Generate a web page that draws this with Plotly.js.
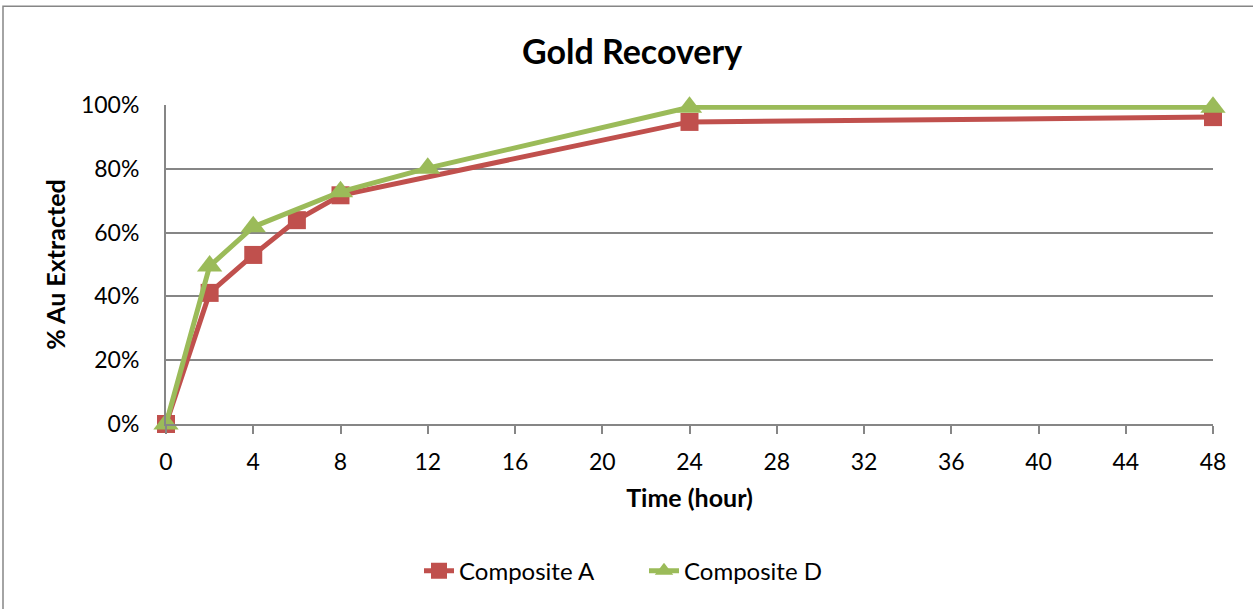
<!DOCTYPE html>
<html>
<head>
<meta charset="utf-8">
<script src="https://cdn.plot.ly/plotly-3.0.1.min.js"></script>
<style>
  html, body { margin: 0; padding: 0; background: #fff; }
  #chart { width: 1253px; height: 609px; }
</style>
</head>
<body>
<div id="chart"></div>
<script>
// Data
const hoursA = [0, 2, 4, 6, 8, 24, 48];
const recoveryA = [0, 0.411, 0.530, 0.639, 0.717, 0.947, 0.962];
const hoursD = [0, 2, 4, 8, 12, 24, 48];
const recoveryD = [0, 0.495, 0.618, 0.728, 0.802, 0.993, 0.993];
const seriesNames = ["Composite A", "Composite D"];
const xTicks = [0, 4, 8, 12, 16, 20, 24, 28, 32, 36, 40, 44, 48];
const yTicks = [0, 0.2, 0.4, 0.6, 0.8, 1.0];

const FONT = "Lato, 'Open Sans', 'Liberation Sans', sans-serif";
const L = 166, R = 1213, T = 105, B = 424.5;
const pw = R - L, ph = B - T;

const traces = [
  {
    x: hoursA, y: recoveryA, name: seriesNames[0], type: "scatter", mode: "lines+markers",
    cliponaxis: false,
    line: { color: "#C0504D", width: 5 },
    marker: { symbol: "square", size: 18, color: "#C0504D" }
  },
  {
    x: hoursD, y: recoveryD, name: seriesNames[1], type: "scatter", mode: "lines+markers",
    cliponaxis: false,
    line: { color: "#9BBB59", width: 5 },
    marker: { symbol: "triangle-up", size: 22, color: "#9BBB59" }
  }
];

const layout = {
  width: 1253, height: 609,
  margin: { l: L, r: 1253 - R, t: T, b: 609 - B, pad: 0 },
  paper_bgcolor: "#ffffff", plot_bgcolor: "#ffffff",
  font: { family: FONT, size: 23, color: "#000" },
  showlegend: true,
  title: {
    text: "<b>Gold Recovery</b>",
    font: { family: FONT, size: 34, color: "#000" },
    x: 632 / 1253, xanchor: "center", xref: "container",
    y: 1 - 52 / 609, yanchor: "middle", yref: "container"
  },
  xaxis: {
    range: [0, 48], tickvals: xTicks, ticktext: xTicks.map(String),
    showgrid: false, zeroline: false,
    showline: true, linecolor: "#868686", linewidth: 2,
    ticks: "outside", ticklen: 8, tickwidth: 2, tickcolor: "#868686",
    ticklabelstandoff: 8,
    tickfont: { family: FONT, size: 23, color: "#000" },
    title: { text: "<b>Time (hour)</b>", font: { family: FONT, size: 25, color: "#000" }, standoff: 16 },
    fixedrange: true
  },
  yaxis: {
    range: [0, 1.0], tickvals: yTicks, tickformat: ".0%",
    showgrid: true, gridcolor: "#868686", gridwidth: 2,
    zeroline: false, showline: true, linecolor: "#868686", linewidth: 2,
    ticks: "", ticklabelstandoff: 20,
    tickfont: { family: FONT, size: 23, color: "#000" },
    title: { text: "<b>% Au Extracted</b>", font: { family: FONT, size: 25, color: "#000" }, standoff: 8 },
    fixedrange: true
  },
  legend: {
    orientation: "h", x: (644 - L) / pw, xanchor: "center",
    y: (B - 572) / ph, yanchor: "middle",
    font: { family: FONT, size: 24, color: "#000" },
    entrywidth: 180, entrywidthmode: "pixels",
    tracegroupgap: 0, bgcolor: "rgba(0,0,0,0)"
  },
  shapes: [
    {
      type: "rect", xref: "paper", yref: "paper",
      x0: (3 - L) / pw, x1: (1300 - L) / pw,
      y0: (B - 700) / ph, y1: (B - 6) / ph,
      line: { color: "#868686", width: 1.5 }, fillcolor: "rgba(0,0,0,0)", layer: "below"
    }
  ]
};

Plotly.newPlot("chart", traces, layout, { staticPlot: true, displayModeBar: false });
</script>
</body>
</html>
